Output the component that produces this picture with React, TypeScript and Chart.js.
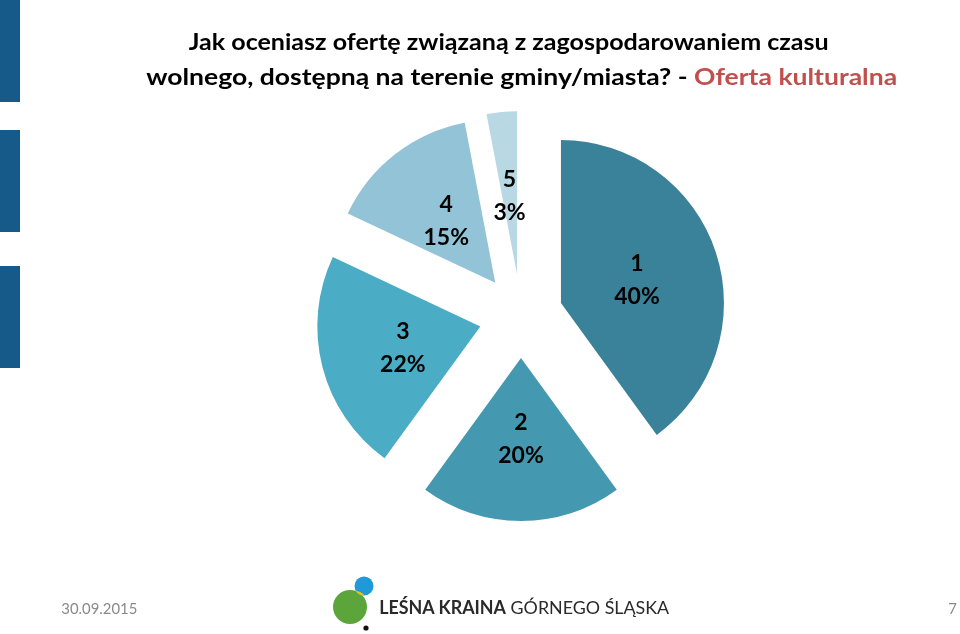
import React, { useEffect, useLayoutEffect, useRef } from "react";
import { Chart, registerables } from "chart.js";

Chart.register(...registerables);

const categories = ["1", "2", "3", "4", "5"];
const shares = [40, 20, 22, 15, 3];
const sliceColors = ["#3A8299", "#4499B1", "#4BACC6", "#93C3D6", "#B8D8E4"];

const titleLine1 = "Jak oceniasz ofertę związaną z zagospodarowaniem czasu";
const titleLine2Black = "wolnego, dostępną na terenie gminy/miasta? - ";
const titleLine2Red = "Oferta kulturalna";
const footerDate = "30.09.2015";
const pageNumber = "7";
const logoBold = "LEŚNA KRAINA";
const logoRegular = "GÓRNEGO ŚLĄSKA";

const EXPLODE = 42;
const LABEL_R = 122;
const FONT = "Lato, 'Open Sans', sans-serif";

const explodePlugin = {
  id: "explodePie",
  beforeDatasetDraw(chart: any, args: any) {
    const ctx = chart.ctx;
    args.meta.data.forEach((arc: any) => {
      const { startAngle, endAngle } = arc.getProps(["startAngle", "endAngle"], true);
      const mid = (startAngle + endAngle) / 2;
      ctx.save();
      ctx.translate(Math.cos(mid) * EXPLODE, Math.sin(mid) * EXPLODE);
      arc.draw(ctx, chart.chartArea);
      ctx.restore();
    });
    return false;
  },
  afterDatasetsDraw(chart: any) {
    const ctx = chart.ctx;
    const meta = chart.getDatasetMeta(0);
    const data = chart.data.datasets[0].data as number[];
    const total = data.reduce((a, b) => a + b, 0);
    ctx.save();
    ctx.fillStyle = "#000";
    ctx.textAlign = "center";
    ctx.textBaseline = "middle";
    ctx.font = `bold 23px ${FONT}`;
    meta.data.forEach((arc: any, i: number) => {
      const { x, y, startAngle, endAngle } = arc.getProps(["x", "y", "startAngle", "endAngle"], true);
      const mid = (startAngle + endAngle) / 2;
      const px = x + Math.cos(mid) * LABEL_R;
      const py = y + Math.sin(mid) * LABEL_R;
      const pct = Math.round((data[i] / total) * 100) + "%";
      ctx.fillText(chart.data.labels[i], px, py - 15);
      ctx.fillText(pct, px, py + 18);
    });
    ctx.restore();
  },
};

function FitLine(props: { centerX: number; top: number; width: number; style?: any; children: any }) {
  const ref = useRef<HTMLSpanElement>(null);
  useLayoutEffect(() => {
    const fit = () => {
      const el = ref.current;
      if (!el) return;
      el.style.transform = "none";
      const w = el.getBoundingClientRect().width;
      if (w > 0) el.style.transform = `scaleX(${props.width / w})`;
    };
    fit();
    if ((document as any).fonts && (document as any).fonts.ready) (document as any).fonts.ready.then(fit);
  }, [props.width]);
  return (
    <div
      style={{
        position: "absolute",
        left: props.centerX - 600,
        width: 1200,
        top: props.top,
        textAlign: "center",
        whiteSpace: "nowrap",
      }}
    >
      <span ref={ref} style={{ display: "inline-block", transformOrigin: "center", ...props.style }}>
        {props.children}
      </span>
    </div>
  );
}

export default function App() {
  const canvasRef = useRef<HTMLCanvasElement>(null);

  useEffect(() => {
    const canvas = canvasRef.current;
    if (!canvas) return;
    const chart = new Chart(canvas, {
      type: "pie",
      data: {
        labels: categories,
        datasets: [
          {
            data: shares,
            backgroundColor: sliceColors,
            borderWidth: 0,
            offset: 0,
          },
        ],
      },
      options: {
        animation: false,
        responsive: false,
        radius: 163,
        events: [],
        layout: { padding: { left: 122, right: 40, top: 100, bottom: 102 } },
        plugins: {
          legend: { display: false },
          tooltip: { enabled: false },
          title: { display: false },
        },
      } as any,
      plugins: [explodePlugin as any],
    });
    return () => chart.destroy();
  }, []);

  const titleStyle = { fontFamily: FONT, fontWeight: 700, fontSize: 23, lineHeight: "35px", color: "#000" };

  return (
    <div
      style={{
        position: "absolute",
        left: 0,
        top: 0,
        width: 960,
        height: 634,
        background: "#fff",
        overflow: "hidden",
      }}
    >
      <canvas ref={canvasRef} width={960} height={634} style={{ position: "absolute", left: 0, top: 0 }} />

      <div style={{ position: "absolute", left: 0, top: 0, width: 20, height: 102, background: "#165A8A" }} />
      <div style={{ position: "absolute", left: 0, top: 130, width: 20, height: 102, background: "#165A8A" }} />
      <div style={{ position: "absolute", left: 0, top: 266, width: 20, height: 102, background: "#165A8A" }} />

      <FitLine centerX={509} top={24} width={640} style={titleStyle}>
        {titleLine1}
      </FitLine>
      <FitLine centerX={522} top={59} width={751} style={titleStyle}>
        {titleLine2Black}
        <span style={{ color: "#C0504D" }}>{titleLine2Red}</span>
      </FitLine>

      <FitLine centerX={99} top={598} width={76} style={{ fontFamily: FONT, fontSize: 15, lineHeight: "20px", color: "#8A8A8A" }}>
        {footerDate}
      </FitLine>
      <div
        style={{
          position: "absolute",
          left: 930,
          width: 27,
          top: 598,
          textAlign: "right",
          fontFamily: FONT,
          fontSize: 15,
          lineHeight: "20px",
          color: "#8A8A8A",
        }}
      >
        {pageNumber}
      </div>

      <svg width={60} height={60} style={{ position: "absolute", left: 325, top: 574 }}>
        <circle cx={25} cy={33} r={17} fill="#5BA53B" />
        <circle cx={39} cy={12} r={9.5} fill="#1E9AD8" />
        <path d="M 30.5 16.5 A 9.5 9.5 0 0 0 40 21.5 A 17 17 0 0 0 30.5 16.5 Z" fill="#E4C31C" />
        <circle cx={41} cy={54} r={2.6} fill="#111" />
      </svg>
      <FitLine centerX={524} top={596} width={290} style={{ fontFamily: FONT, fontSize: 18, lineHeight: "22px", color: "#2A2A2A" }}>
        <span style={{ fontWeight: 700 }}>{logoBold}</span> <span style={{ fontWeight: 400 }}>{logoRegular}</span>
      </FitLine>
    </div>
  );
}
